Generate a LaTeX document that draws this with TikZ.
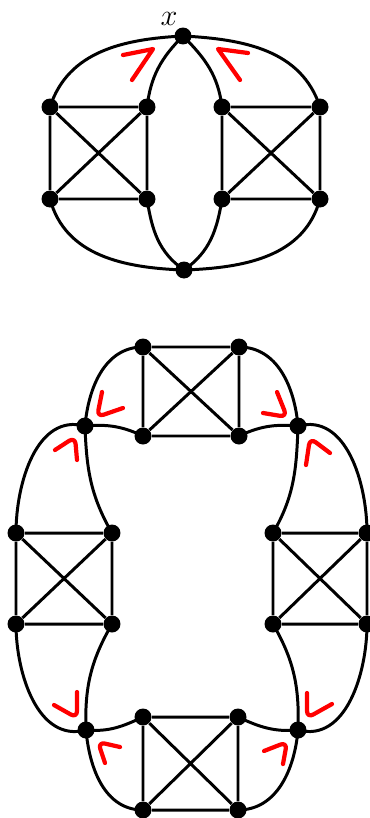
\documentclass[tikz,border=0pt]{standalone}
\usepackage{amsmath}
\usetikzlibrary{calc}

\begin{document}
\begin{tikzpicture}[x=0.02cm, y=-0.02cm,
	vtx/.style={circle, fill=black, inner sep=0pt, minimum size=0.34cm},
	edg/.style={line width=1.7pt},
	redmark/.style={red, line width=2.4pt, line cap=round, line join=round}]
	\useasboundingbox (0,0) rectangle (369,818);
	% upper graph
	\node[vtx] (x) at (183,36) {};
	\node[vtx] (z) at (184,270) {};
	\node[vtx] (a1) at (50,107) {};
	\node[vtx] (a2) at (147,107) {};
	\node[vtx] (a3) at (50,199) {};
	\node[vtx] (a4) at (147,199) {};
	\node[vtx] (b1) at (222,107) {};
	\node[vtx] (b2) at (320,107) {};
	\node[vtx] (b3) at (222,199) {};
	\node[vtx] (b4) at (320,199) {};
	\node[font=\LARGE, inner sep=0pt] (xl) at (169,19) {$x$};
	\draw[edg] (a1) -- (a2) -- (a4) -- (a3) -- (a1) -- (a4) (a2) -- (a3);
	\draw[edg] (b1) -- (b2) -- (b4) -- (b3) -- (b1) -- (b4) (b2) -- (b3);
	\draw[edg] (x.center) to[out=183, in=72] (a1.center);
	\draw[edg] (x.center) to[out=225, in=83] (a2.center);
	\draw[edg] (x.center) to[out=-45, in=97] (b1.center);
	\draw[edg] (x.center) to[out=-3, in=108] (b2.center);
	\draw[edg] (z.center) to[out=178, in=-75] (a3.center);
	\draw[edg] (z.center) to[out=145, in=-81] (a4.center);
	\draw[edg] (z.center) to[out=35, in=-99] (b3.center);
	\draw[edg] (z.center) to[out=2, in=-105] (b4.center);
	\draw[redmark] (123,55) -- (153,49) -- (132,80);
	\draw[redmark] (248,53) -- (218,49) -- (240,80);
	% lower graph
	\node[vtx] (t1) at (143,347) {};
	\node[vtx] (t2) at (239,347) {};
	\node[vtx] (t3) at (143,436) {};
	\node[vtx] (t4) at (239,436) {};
	\node[vtx] (l1) at (16,533) {};
	\node[vtx] (l2) at (112,533) {};
	\node[vtx] (l3) at (16,624) {};
	\node[vtx] (l4) at (112,624) {};
	\node[vtx] (r1) at (273,533) {};
	\node[vtx] (r2) at (367,533) {};
	\node[vtx] (r3) at (273,624) {};
	\node[vtx] (r4) at (367,624) {};
	\node[vtx] (d1) at (143,717) {};
	\node[vtx] (d2) at (238,717) {};
	\node[vtx] (d3) at (143,810) {};
	\node[vtx] (d4) at (238,810) {};
	\node[vtx] (cl1) at (85,426) {};
	\node[vtx] (cr1) at (298,426) {};
	\node[vtx] (cl2) at (86,730) {};
	\node[vtx] (cr2) at (298,730) {};
	\draw[edg] (t1) -- (t2) -- (t4) -- (t3) -- (t1) -- (t4) (t2) -- (t3);
	\draw[edg] (l1) -- (l2) -- (l4) -- (l3) -- (l1) -- (l4) (l2) -- (l3);
	\draw[edg] (r1) -- (r2) -- (r4) -- (r3) -- (r1) -- (r4) (r2) -- (r3);
	\draw[edg] (d1) -- (d2) -- (d4) -- (d3) -- (d1) -- (d4) (d2) -- (d3);
	\draw[edg] (cl1.center) to[out=85, in=180] (t1.center);
	\draw[edg] (cl1.center) to[out=5, in=155] (t3.center);
	\draw[edg] (cl1.center) to[out=165, in=90] (l1.center);
	\draw[edg] (cl1.center) to[out=-88, in=120] (l2.center);
	\draw[edg] (cr1.center) to[out=95, in=0] (t2.center);
	\draw[edg] (cr1.center) to[out=175, in=25] (t4.center);
	\draw[edg] (cr1.center) to[out=15, in=90] (r2.center);
	\draw[edg] (cr1.center) to[out=-92, in=60] (r1.center);
	\draw[edg] (cl2.center) to[out=195, in=-90] (l3.center);
	\draw[edg] (cl2.center) to[out=92, in=-120] (l4.center);
	\draw[edg] (cl2.center) to[out=-5, in=-155] (d1.center);
	\draw[edg] (cl2.center) to[out=-85, in=180] (d3.center);
	\draw[edg] (cr2.center) to[out=88, in=-60] (r3.center);
	\draw[edg] (cr2.center) to[out=-15, in=-90] (r4.center);
	\draw[edg] (cr2.center) to[out=185, in=-25] (d2.center);
	\draw[edg] (cr2.center) to[out=-95, in=0] (d4.center);
	\draw[redmark, rounded corners=4pt] (102,392) -- (97,417) -- (123,408);
	\draw[redmark, rounded corners=4pt] (55,450) -- (75,437) -- (77,460);
	\draw[redmark, rounded corners=4pt] (277,392) -- (287,417) -- (263,413);
	\draw[redmark, rounded corners=4pt] (330,453) -- (310,438) -- (306,465);
	\draw[redmark, rounded corners=4pt] (77,692) -- (77,718) -- (54,705);
	\draw[redmark, rounded corners=4pt] (120,747) -- (98,742) -- (105,763);
	\draw[redmark, rounded corners=4pt] (307,693) -- (307,718) -- (332,704);
	\draw[redmark, rounded corners=4pt] (264,751) -- (287,742) -- (283,764);
\end{tikzpicture}
\end{document}
